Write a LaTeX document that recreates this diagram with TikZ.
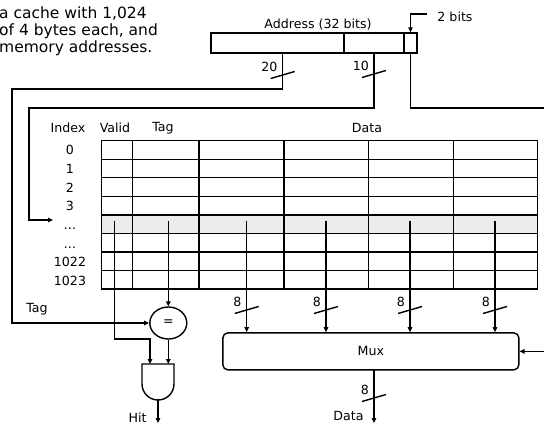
\documentclass[tikz,border=0pt]{standalone}
\usepackage{fontspec}
\setmainfont{DejaVu Sans}
\usetikzlibrary{arrows.meta,shapes.geometric}
\newcommand{\busslash}[2]{%
  \draw[wire] ([shift={(-12,3.5)}]#1) -- ([shift={(12,-3.5)}]#1);
  \node[lbl,anchor=south east] at ([shift={(-5,-3.5)}]#1) {#2};}

\begin{document}
\begin{tikzpicture}[x=1pt,y=-1pt,
    lbl/.style={font=\fontsize{12.6}{14}\selectfont,inner sep=0pt},
    note/.style={font=\fontsize{15.5}{17}\selectfont,inner sep=0pt,anchor=base west},
    wire/.style={line width=1.4pt},
    arr/.style={wire,-{Triangle[length=5pt,width=4.5pt]}},
    field/.style={draw,wire,rectangle,inner sep=0pt,minimum height=20pt}]
\clip (0,0) rectangle (544,425);

\node[note] (note1) at (-1,19) {a cache with 1,024};
\node[note] (note2) at (-1,36) {of 4 bytes each, and};
\node[note] (note3) at (-1,53) {memory addresses.};

\node[field,minimum width=133pt] (addrtag) at (277.5,43) {};
\node[field,minimum width=60pt] (addridx) at (374,43) {};
\node[field,minimum width=13pt] (addroff) at (410.5,43) {};
\node[lbl] (addrlbl) at (318,25) {Address (32 bits)};
\node[lbl] (bits) at (455,17) {2 bits};
\coordinate (bitslead) at (427,14);

\node[lbl] (hindex) at (68,128) {Index};
\node[lbl] (hvalid) at (115,128) {Valid};
\node[lbl] (htag) at (163,128) {Tag};
\node[lbl] (hdata) at (367,128) {Data};

\fill[gray!15] (101.7,214.9) rectangle (537.3,233.5);
\foreach \r in {0,...,8}
  \draw[wire,line cap=rect] (101.7,{140.7+18.54*\r}) -- (537.3,{140.7+18.54*\r});
\foreach \c in {101.7,132.3,199,284,368.3,453.3,537.3}
  \draw[wire,line cap=rect] (\c,140.7) -- (\c,289);
\foreach \lab [count=\i from 0] in {0,1,2,3,\dots,\dots,1022,1023}
  \node[lbl,anchor=base] (row\i) at (70,{155+18.6*\i}) {\lab};

\coordinate (validtap) at (114.3,221);
\coordinate (tagtap) at (168.3,221);
\coordinate (d1) at (246.7,221);
\coordinate (d2) at (326,221);
\coordinate (d3) at (410,221);
\coordinate (d4) at (495,221);

\node[draw,wire,ellipse,minimum width=37pt,minimum height=32pt,inner sep=0pt,
      font=\fontsize{12.6}{14}\selectfont] (cmp) at (168.3,323) {=};
\node[draw,wire,rounded corners=5pt,minimum width=296pt,minimum height=37pt,
      font=\fontsize{12.6}{14}\selectfont] (mux) at (370.85,351.35) {Mux};

\coordinate (andg) at (158,364);
\coordinate (andin1) at (150,364);
\coordinate (andin2) at (168.3,364);
\coordinate (andout) at (158,400);
\coordinate (hitend) at (158,423);
\draw[wire] ([xshift=-16]andg) -- ([xshift=16]andg) -- ++(0,20)
  arc[start angle=0,end angle=180,radius=16] -- cycle;

\coordinate (tapaddr) at (282.7,53);
\coordinate (tagleft) at (12,89);
\coordinate (idxleft) at (29,108);
\coordinate (idxin) at (53,220);
\coordinate (offright) at (548,108);
\coordinate (validbend) at (150,339);
\coordinate (muxout) at (374,370);
\coordinate (dataend) at (374,423);

\draw[arr] (bitslead) -| (addroff.north);
\draw[arr] (tapaddr) |- (tagleft) |- (cmp.west);
\draw[arr] (addridx.south) |- (idxleft) |- (idxin);
\draw[arr] (addroff.south) |- (offright) |- (mux.east);
\draw[arr] (validtap) |- (validbend) -- (andin1);
\draw[arr] (tagtap) -- (cmp.north);
\draw[arr] (cmp.south) -- (andin2);
\draw[arr] (andout) -- (hitend);
\foreach \d in {d1,d2,d3,d4}
  \draw[arr] (\d) -- (\d |- mux.north);
\draw[arr] (muxout) -- (dataend);

\coordinate (tagmark) at (282.7,75);
\coordinate (idxmark) at (374,74);
\busslash{tagmark}{20}
\busslash{idxmark}{10}
\foreach \d in {d1,d2,d3,d4}
  \coordinate (\d mark) at ([shift={(0,89)}]\d);
\busslash{d1mark}{8}
\busslash{d2mark}{8}
\busslash{d3mark}{8}
\busslash{d4mark}{8}
\coordinate (outmark) at (374,398);
\busslash{outmark}{8}

\node[lbl] (tagin) at (37,309) {Tag};
\node[lbl] (hit) at (137.5,417.5) {Hit};
\node[lbl] (dataout) at (348.5,415.5) {Data};
\end{tikzpicture}
\end{document}
